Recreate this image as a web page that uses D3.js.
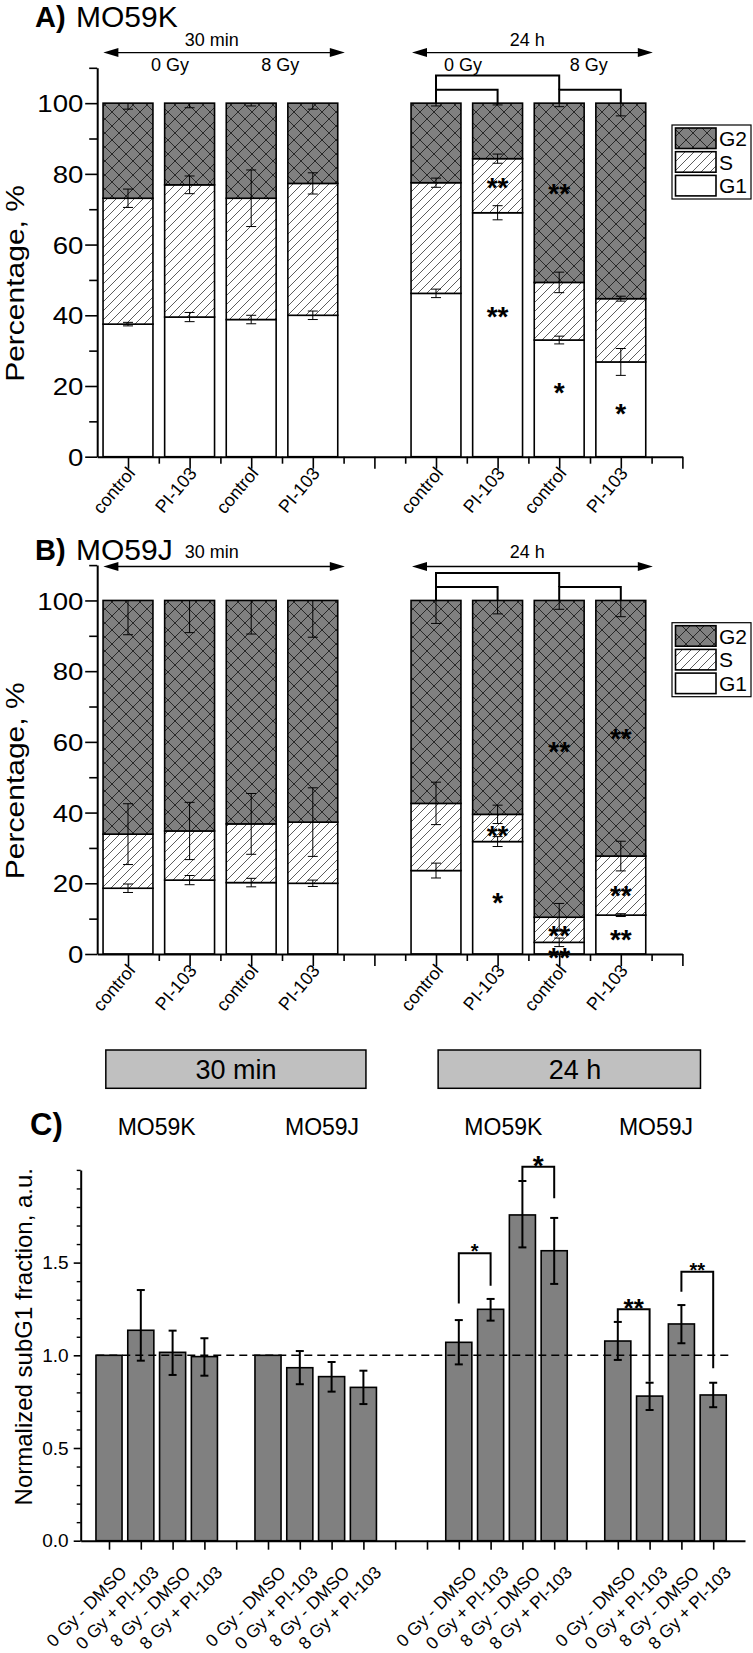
<!DOCTYPE html>
<html><head><meta charset="utf-8">
<script src="https://cdn.jsdelivr.net/npm/d3@7/dist/d3.min.js"></script>
<style>
body{margin:0;background:#fff}
svg{display:block}
text{font-family:"Liberation Sans",Arial,Helvetica,sans-serif;fill:#000}
</style>
</head><body>
<svg id="chart" width="753" height="1653"></svg>
<script>
// ---------------- DATA ----------------
// Panels A & B: cell-cycle phases (stacked, %)
const categoriesAB = ["control","PI-103","control","PI-103","control","PI-103","control","PI-103"];
const positionsAB  = [1,2,3,4,6,7,8,9];
const phases = ["G2","S","G1"];
const yTicksAB = [0,20,40,60,80,100];
const yMinorAB = [10,30,50,70,90,110];
const timeLabels = ["30 min","24 h"];
const doseLabels = ["0 Gy","8 Gy"];

// A) MO59K
const aG1    = [37.5, 39.5, 38.8, 40.0, 46.2, 69.0, 33.0, 26.8];
const aG1err = [0.5, 1.3, 1.2, 1.2, 1.2, 2.0, 1.1, 3.8];
const aS     = [35.6, 37.4, 34.3, 37.3, 31.3, 15.3, 16.3, 17.9];
const aSerr  = [2.6, 2.5, 8.0, 3.0, 1.3, 1.3, 2.9, 0.7];
const aG2    = [26.9, 23.1, 26.9, 22.7, 22.5, 15.7, 50.7, 55.3];
const aG2err = [1.7, 1.3, 0.8, 1.7, 0.8, 0.5, 1.0, 3.6];
const aStars = [{p:7,v:77.8,t:"**"},{p:7,v:41.2,t:"**"},{p:8,v:76,t:"**"},{p:8,v:19.8,t:"*"},{p:9,v:13.9,t:"*"}];

// B) MO59J
const bG1    = [18.6, 20.9, 20.2, 20.0, 23.6, 31.8, 3.3, 11.0];
const bG1err = [1.2, 1.3, 1.2, 0.9, 2.1, 1.4, 1.2, 0.4];
const bS     = [15.3, 13.9, 16.6, 17.3, 19.0, 7.7, 7.1, 16.7];
const bSerr  = [8.6, 8.1, 8.6, 9.7, 6.0, 2.6, 3.9, 4.2];
const bG2    = [66.1, 65.2, 63.2, 62.7, 57.4, 60.5, 89.6, 72.3];
const bG2err = [9.7, 9.1, 9.5, 10.4, 6.5, 3.8, 2.5, 4.6];
const bStars = [{p:7,v:35,t:"**"},{p:7,v:16.2,t:"*"},{p:8,v:58.8,t:"**"},{p:8,v:6.8,t:"**"},{p:8,v:0.6,t:"**"},
                {p:9,v:62.4,t:"**"},{p:9,v:18.1,t:"**"},{p:9,v:5.6,t:"**"}];

// C) Normalized subG1 fraction
const categoriesC = ["0 Gy - DMSO","0 Gy + PI-103","8 Gy - DMSO","8 Gy + PI-103",
                     "0 Gy - DMSO","0 Gy + PI-103","8 Gy - DMSO","8 Gy + PI-103",
                     "0 Gy - DMSO","0 Gy + PI-103","8 Gy - DMSO","8 Gy + PI-103",
                     "0 Gy - DMSO","0 Gy + PI-103","8 Gy - DMSO","8 Gy + PI-103"];
const positionsC = [1,2,3,4,6,7,8,9,12,13,14,15,17,18,19,20];
const valuesC    = [1.0, 1.135, 1.016, 0.993, 1.0, 0.933, 0.885, 0.827, 1.07, 1.248, 1.757, 1.564, 1.077, 0.78, 1.169, 0.786];
const errHiC     = [0, 0.217, 0.117, 0.099, 0, 0.09, 0.079, 0.09, 0.12, 0.056, 0.183, 0.177, 0.103, 0.072, 0.102, 0.066];
const errLoC     = [0, 0.164, 0.122, 0.103, 0, 0.089, 0.081, 0.09, 0.119, 0.061, 0.175, 0.179, 0.102, 0.075, 0.104, 0.066];
const yTicksC = [0,0.5,1.0,1.5];
const yMinorC = [0.1,0.2,0.3,0.4,0.6,0.7,0.8,0.9,1.1,1.2,1.3,1.4,1.6,1.7,1.8,1.9,2.0];
const cellLinesC = ["MO59K","MO59J","MO59K","MO59J"];
const bracketsC = [
  {p1:12,p2:13,top:1.55, l:1.28, r:1.375,t:"*", fs:20},
  {p1:14,p2:15,top:2.017,l:1.946,r:1.847,t:"*", fs:28},
  {p1:17,p2:18,top:1.248,l:1.181,r:0.858,t:"**",fs:26},
  {p1:19,p2:20,top:1.451,l:1.343,r:0.93, t:"**",fs:20}
];

// ---------------- DRAWING ----------------
const svg = d3.select("#chart");
svg.append("rect").attr("width",753).attr("height",1653).attr("fill","#fff");
const defs = svg.append("defs");
const pG2 = defs.append("pattern").attr("id","pG2").attr("patternUnits","userSpaceOnUse").attr("width",14).attr("height",14);
pG2.append("rect").attr("width",14).attr("height",14).attr("fill","#808080");
pG2.append("path").attr("d","M0,0L14,14M14,0L0,14").attr("stroke","#111").attr("stroke-width",0.8);
const pS = defs.append("pattern").attr("id","pS").attr("patternUnits","userSpaceOnUse").attr("width",9).attr("height",9);
pS.append("rect").attr("width",9).attr("height",9).attr("fill","#fff");
pS.append("path").attr("d","M0,9L9,0M-2,2L2,-2M7,11L11,7").attr("stroke","#333").attr("stroke-width",0.8);
const fills = {G1:"#fff", S:"url(#pS)", G2:"url(#pG2)"};

const xAB = d3.scaleLinear().domain([0.5,10]).range([97.2,682.4]);
const barW = xAB(1.81) - xAB(1);

function errBar(g, xc, y, v, lo, hi, capHalf, sw){
  g.append("line").attr("x1",xc).attr("x2",xc).attr("y1",y(v-lo)).attr("y2",y(v+hi))
    .attr("stroke","#000").attr("stroke-width",sw);
  if(lo>0) g.append("line").attr("x1",xc-capHalf).attr("x2",xc+capHalf).attr("y1",y(v-lo)).attr("y2",y(v-lo)).attr("stroke","#000").attr("stroke-width",sw);
  if(hi>0) g.append("line").attr("x1",xc-capHalf).attr("x2",xc+capHalf).attr("y1",y(v+hi)).attr("y2",y(v+hi)).attr("stroke","#000").attr("stroke-width",sw);
}

function arrow(g, x1, x2, y){
  g.append("line").attr("x1",x1+8).attr("x2",x2-8).attr("y1",y).attr("y2",y).attr("stroke","#000").attr("stroke-width",1.3);
  g.append("path").attr("d",`M${x1},${y}L${x1+15},${y-4.5}L${x1+15},${y+4.5}Z`).attr("fill","#000");
  g.append("path").attr("d",`M${x2},${y}L${x2-15},${y-4.5}L${x2-15},${y+4.5}Z`).attr("fill","#000");
}

function styleAxis(g, dw, tw){
  g.select(".domain").attr("stroke","#000").attr("stroke-width",dw);
  g.selectAll(".tick line").attr("stroke","#000").attr("stroke-width",tw);
}

function stackedPanel(y, G1, G1e, S, Se, G2, G2e, stars, title, cell, legTop, opts){
  const g = svg.append("g");
  positionsAB.forEach((p,i)=>{
    const x0 = xAB(p) - barW/2;
    const segs = [["G1",0,G1[i]],["S",G1[i],G1[i]+S[i]],["G2",G1[i]+S[i],G1[i]+S[i]+G2[i]]];
    segs.forEach(([k,a,b])=>{
      g.append("rect").attr("x",x0).attr("y",y(b)).attr("width",barW).attr("height",y(a)-y(b))
        .attr("fill",fills[k]).attr("stroke","#000").attr("stroke-width",1.6);
    });
  });
  positionsAB.forEach((p,i)=>{
    const xc = xAB(p);
    const t1 = G1[i], t2 = G1[i]+S[i], t3 = t2+G2[i];
    errBar(g,xc,y,t1,G1e[i],G1e[i],5,1);
    errBar(g,xc,y,t2,Se[i],Se[i],5,1);
    errBar(g,xc,y,t3,G2e[i],0,5,1);
  });
  stars.forEach(s=>{
    g.append("text").attr("x",xAB(s.p)).attr("y",y(s.v)+15).attr("text-anchor","middle")
      .attr("font-size",28).attr("font-weight","bold").text(s.t);
  });
  // axes
  const gy = svg.append("g").attr("transform",`translate(${xAB(0.5)},0)`)
    .call(d3.axisLeft(y).tickValues(yTicksAB).tickSize(12).tickSizeOuter(0).tickPadding(2));
  styleAxis(gy,2,1.6);
  gy.selectAll(".tick text").style("font-size","24px").style("font-family","'Liberation Sans', Arial, sans-serif")
    .attr("x",-12).attr("transform","scale(1.15,1)").attr("dy","0.36em");
  const gym = svg.append("g").attr("transform",`translate(${xAB(0.5)},0)`)
    .call(d3.axisLeft(y).tickValues(yMinorAB).tickSize(8).tickSizeOuter(0).tickFormat(""));
  gym.select(".domain").remove(); styleAxis(gym,2,1.6);

  const gx = svg.append("g").attr("transform",`translate(0,${y(0)})`)
    .call(d3.axisBottom(xAB).tickValues(d3.range(1,11)).tickSize(12).tickSizeOuter(0).tickFormat(""));
  styleAxis(gx,2,1.6);
  const gxm = svg.append("g").attr("transform",`translate(0,${y(0)})`)
    .call(d3.axisBottom(xAB).tickValues(d3.range(1.5,10,1)).tickSize(7).tickSizeOuter(0).tickFormat(""));
  gxm.select(".domain").remove(); styleAxis(gxm,2,1.6);
  positionsAB.forEach((p,i)=>{
    svg.append("text").attr("text-anchor","end").attr("font-size",18)
      .attr("transform",`translate(${xAB(p)+8},${y(0)+17}) rotate(-50)`)
      .text(categoriesAB[i]);
  });
  // y label
  svg.append("text").attr("text-anchor","middle").attr("font-size",25)
    .attr("transform",`translate(24,${y(49)}) rotate(-90) scale(1.2,1)`).text("Percentage, %");
  // title
  svg.append("text").attr("x",35).attr("y",opts.titleY).attr("font-size",29).attr("font-weight","bold").text(title);
  svg.append("text").attr("x",76).attr("y",opts.titleY).attr("font-size",30).text(cell);
  // time arrows
  const ga = svg.append("g");
  [[0.6,4.52,2.36],[5.61,9.52,7.48]].forEach(([a,b,c],k)=>{
    arrow(ga,xAB(a),xAB(b),y(opts.arrowV));
    ga.append("text").attr("x",xAB(c)).attr("y",y(opts.timeV)+6).attr("text-anchor","middle").attr("font-size",18).text(timeLabels[k]);
  });
  if(opts.doses){
    [[1.68,0],[3.47,1],[6.44,0],[8.48,1]].forEach(([p,k])=>{
      ga.append("text").attr("x",xAB(p)).attr("y",y(110.8)+6).attr("text-anchor","middle").attr("font-size",18).text(doseLabels[k]);
    });
  }
  const gb = svg.append("g").attr("fill","none").attr("stroke","#000").attr("stroke-width",2);
  [[6,7],[8,9]].forEach(([a,b])=>{
    gb.append("path").attr("d",`M${xAB(a)},${y(100)}V${y(103.8)}H${xAB(b)}V${y(100)}`);
  });
  gb.append("path").attr("d",`M${xAB(6)},${y(103.8)}V${y(107.8)}H${xAB(8)}V${y(103.8)}`);
  // legend
  const gl = svg.append("g");
  gl.append("rect").attr("x",672).attr("y",legTop).attr("width",79).attr("height",74).attr("fill","#fff").attr("stroke","#000").attr("stroke-width",1.2);
  phases.forEach((ph,i)=>{
    const yy = legTop + 3 + i*23.7;
    gl.append("rect").attr("x",675.5).attr("y",yy).attr("width",40.5).attr("height",20.5)
      .attr("fill",fills[ph]).attr("stroke","#000").attr("stroke-width",1.6);
    gl.append("text").attr("x",719).attr("y",yy+18).attr("font-size",21).text(ph);
  });
}

const yA = d3.scaleLinear().domain([0,110]).range([456.7,67.8]);
const yB = d3.scaleLinear().domain([0,110]).range([954,565.1]);
stackedPanel(yA,aG1,aG1err,aS,aSerr,aG2,aG2err,aStars,"A)","MO59K",125,{titleY:27,arrowV:114.3,timeV:117.8,doses:true});
stackedPanel(yB,bG1,bG1err,bS,bSerr,bG2,bG2err,bStars,"B)","MO59J",622.7,{titleY:560,arrowV:109.6,timeV:113.7,doses:false});

// ---------------- PANEL C ----------------
const xC = d3.scaleLinear().domain([0.11,21]).range([80.7,745]);
const yC = d3.scaleLinear().domain([0,2]).range([1540.7,1169.9]);
const bwC = xC(1.82)-xC(1);

[[0.9,9.08,236,"30 min"],[11.35,19.6,575,"24 h"]].forEach(([a,b,tx,t])=>{
  svg.append("rect").attr("x",xC(a)).attr("y",1050).attr("width",xC(b)-xC(a)).attr("height",38.3)
    .attr("fill","#c0c0c0").attr("stroke","#000").attr("stroke-width",1.5);
  svg.append("text").attr("x",tx).attr("y",1079).attr("text-anchor","middle").attr("font-size",27).text(t);
});
svg.append("text").attr("x",30).attr("y",1135).attr("font-size",31).attr("font-weight","bold").text("C)");
[2.5,7.7,13.4,18.2].forEach((p,i)=>{
  svg.append("text").attr("x",xC(p)).attr("y",1135).attr("text-anchor","middle").attr("font-size",23).text(cellLinesC[i]);
});

const gc = svg.append("g");
positionsC.forEach((p,i)=>{
  gc.append("rect").attr("x",xC(p)-bwC/2).attr("y",yC(valuesC[i])).attr("width",bwC).attr("height",yC(0)-yC(valuesC[i]))
    .attr("fill","#808080").attr("stroke","#000").attr("stroke-width",1.6);
});
positionsC.forEach((p,i)=>{
  if(errHiC[i]>0||errLoC[i]>0) errBar(gc,xC(p),yC,valuesC[i],errLoC[i],errHiC[i],4,2);
});
svg.append("line").attr("x1",xC(0.6)).attr("x2",xC(20.5)).attr("y1",yC(1)).attr("y2",yC(1))
  .attr("stroke","#000").attr("stroke-width",1.5).attr("stroke-dasharray","8,5");
bracketsC.forEach(b=>{
  svg.append("path").attr("d",`M${xC(b.p1)},${yC(b.l)}V${yC(b.top)}H${xC(b.p2)}V${yC(b.r)}`)
    .attr("fill","none").attr("stroke","#000").attr("stroke-width",2);
  svg.append("text").attr("x",(xC(b.p1)+xC(b.p2))/2).attr("y",yC(b.top)-4+b.fs*0.45).attr("text-anchor","middle")
    .attr("font-size",b.fs).attr("font-weight","bold").text(b.t);
});
const gcy = svg.append("g").attr("transform",`translate(${xC(0.11)},0)`)
  .call(d3.axisLeft(yC).tickValues(yTicksC).tickSize(7).tickSizeOuter(0).tickPadding(5).tickFormat(d3.format(".1f")));
styleAxis(gcy,2,1.6);
gcy.selectAll(".tick text").style("font-size","19px").style("font-family","'Liberation Sans', Arial, sans-serif");
const gcym = svg.append("g").attr("transform",`translate(${xC(0.11)},0)`)
  .call(d3.axisLeft(yC).tickValues(yMinorC).tickSize(4).tickSizeOuter(0).tickFormat(""));
gcym.select(".domain").remove(); styleAxis(gcym,2,1.4);
const gcx = svg.append("g").attr("transform",`translate(0,${yC(0)})`)
  .call(d3.axisBottom(xC).tickValues(d3.range(1,21)).tickSize(9).tickSizeOuter(0).tickFormat(""));
styleAxis(gcx,2,1.6);
positionsC.forEach((p,i)=>{
  svg.append("text").attr("text-anchor","end").attr("font-size",17.5)
    .attr("transform",`translate(${xC(p)+19},${yC(0)+33}) rotate(-45)`).text(categoriesC[i]);
});
svg.append("text").attr("text-anchor","middle").attr("font-size",24)
  .attr("transform",`translate(32,1336.7) rotate(-90)`).text("Normalized subG1 fraction, a.u.");
</script>
</body></html>
